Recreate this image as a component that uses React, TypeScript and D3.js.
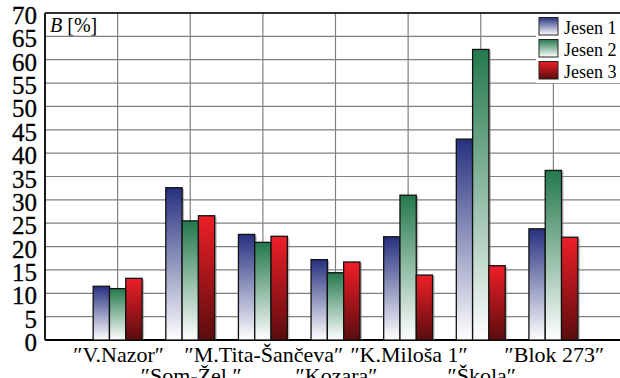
import React from "react";
import * as d3 from "d3";

const categories = ["″V.Nazor″", "″Som-Žel.″", "″M.Tita-Šančeva″", "″Kozara″", "″K.Miloša 1″", "″Škola″", "″Blok 273″"];
const seriesNames = ["Jesen 1", "Jesen 2", "Jesen 3"];
const jesen1 = [11.5, 32.6, 22.6, 17.2, 22.1, 43.0, 23.8];
const jesen2 = [11.0, 25.5, 20.9, 14.4, 31.0, 62.2, 36.3];
const jesen3 = [13.2, 26.6, 22.2, 16.7, 13.9, 15.9, 22.0];
const yTicks = [0, 5, 10, 15, 20, 25, 30, 35, 40, 45, 50, 55, 60, 65, 70];

const W = 620, H = 378;
const left = 45, right = 626, top = 13, bottom = 340;
const FONT = "Liberation Serif, Times New Roman, Times, DejaVu Serif, serif";

export default function App() {
  const x = d3.scaleLinear().domain([0, categories.length + 1]).range([left, right]);
  const y = d3.scaleLinear().domain([0, 70]).range([bottom, top]);
  const series = [jesen1, jesen2, jesen3];
  const bw = 16.3;
  const grads = [
    { id: "gB", top: "#26307f", bot: "#ffffff" },
    { id: "gG", top: "#24784c", bot: "#ffffff" },
    { id: "gR", top: "#ee1f27", bot: "#5a0c0e" },
  ];
  const ts = { fontFamily: FONT };
  return (
    <svg width={W} height={H} style={{ position: "fixed", left: 0, top: 0, background: "#fff", fontFamily: FONT }}>
      <defs>
        {grads.map((g) => (
          <linearGradient key={g.id} id={g.id} x1="0" y1="0" x2="0" y2="1">
            <stop offset="0" stopColor={g.top} />
            <stop offset="1" stopColor={g.bot} />
          </linearGradient>
        ))}
      </defs>
      <rect x={0} y={0} width={W} height={H} fill="#fff" />
      {yTicks.map((t) => (
        <line key={"h" + t} x1={left} x2={right} y1={y(t)} y2={y(t)} stroke="#808080" strokeWidth={1.2} />
      ))}
      {categories.map((c, i) => (
        <line key={"v" + i} x1={x(i + 1)} x2={x(i + 1)} y1={top} y2={bottom} stroke="#808080" strokeWidth={1.2} />
      ))}
      <line x1={left} x2={right} y1={top} y2={top} stroke="#000" strokeWidth={1.5} />
      <line x1={left} x2={left} y1={top} y2={bottom} stroke="#000" strokeWidth={1.8} />
      <line x1={left} x2={right} y1={bottom} y2={bottom} stroke="#000" strokeWidth={1.8} />
      {series.map((s, si) =>
        s.map((v, i) => {
          const x0 = x(i + 1) + (si - 1.5) * bw;
          return (
            <rect key={"s" + si + "-" + i} x={x0 + 2} y={y(v) + 1} width={bw} height={bottom - y(v) - 1}
              fill="#777" opacity={0.5} />
          );
        })
      )}
      {series.map((s, si) =>
        s.map((v, i) => {
          const x0 = x(i + 1) + (si - 1.5) * bw;
          return (
            <rect key={"b" + si + "-" + i} x={x0} y={y(v)} width={bw} height={bottom - y(v)}
              fill={`url(#${grads[si].id})`} stroke="#111" strokeWidth={1.3} />
          );
        })
      )}
      {yTicks.map((t) => (
        <text key={"t" + t} x={37} y={y(t) + 11} textAnchor="end" fontSize={25} fill="#000" stroke="#000" strokeWidth={0.3} style={ts}>{t}</text>
      ))}
      <text x={50} y={32} fontSize={20} fill="#000" style={ts}>
        <tspan fontStyle="italic">B</tspan> [%]
      </text>
      {categories.map((c, i) => (
        <text key={"c" + i} x={x(i + 1) + 1} y={i % 2 === 0 ? 362 : 383} textAnchor="middle" fontSize={22} fill="#000" style={ts}>{c}</text>
      ))}
      <rect x={536} y={14} width={90} height={69} fill="#fff" />
      {seriesNames.map((n, i) => (
        <g key={"l" + i}>
          <rect x={539} y={17.5 + i * 22} width={19} height={17.5} fill={`url(#${grads[i].id})`} stroke="#222" strokeWidth={1} />
          <text x={564} y={34 + i * 22} fontSize={18} fill="#000" style={ts}>{n}</text>
        </g>
      ))}
    </svg>
  );
}
